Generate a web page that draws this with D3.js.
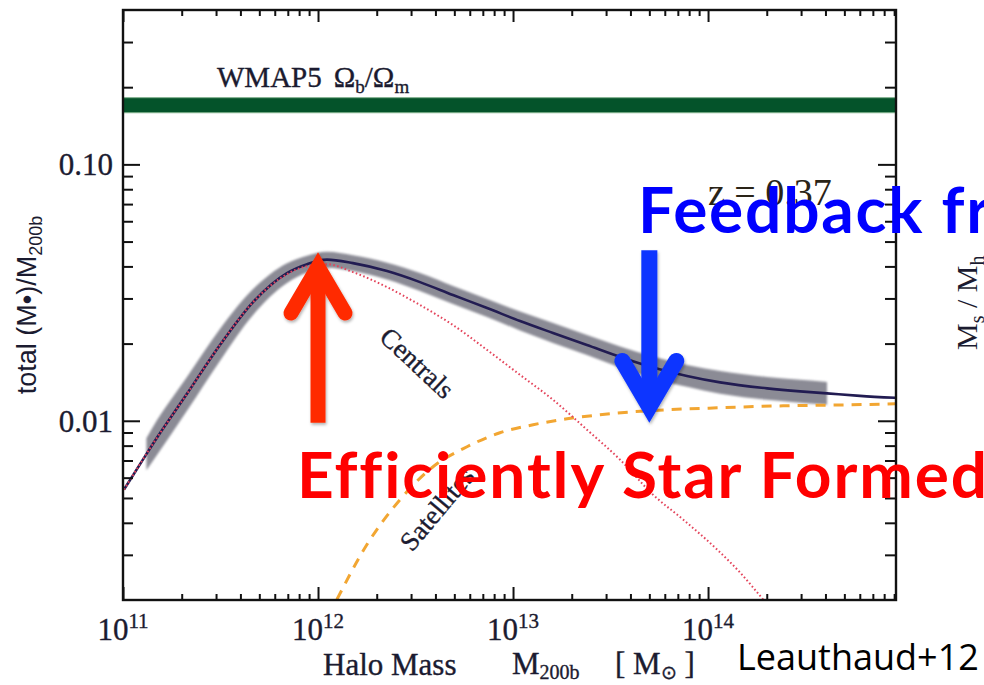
<!DOCTYPE html>
<html>
<head>
<meta charset="utf-8">
<script src="https://cdn.jsdelivr.net/npm/d3@7"></script>
<style>
  html, body { margin: 0; padding: 0; background: #fff; overflow: hidden; }
  svg { display: block; }
</style>
</head>
<body>
<svg id="chart" width="984" height="685"></svg>
<script>
// ---- data: stellar-to-halo mass fraction vs halo mass (log10 M200b / Msun) ----
const totalLogM = [11.005, 11.12, 11.154, 11.328, 11.497, 11.667, 11.841, 11.944, 12.046, 12.179, 12.354, 12.523,
                   12.692, 12.867, 13.036, 13.205, 13.379, 13.549, 13.718, 13.892, 14.062, 14.303, 14.472, 14.610,
                   14.779, 14.959];
const totalFrac = [0.00539, 0.00741, 0.00814, 0.01274, 0.01975, 0.02904, 0.03767, 0.04082, 0.04250, 0.04119, 0.03835, 0.03474,
                   0.03093, 0.02752, 0.02449, 0.02200, 0.01975, 0.01774, 0.01615, 0.01496, 0.01412, 0.01338, 0.01302, 0.01279,
                   0.01251, 0.01229];

// uncertainty band on the total
const bandLogM = [11.12, 11.154, 11.328, 11.497, 11.667, 11.841, 11.944, 12.046, 12.179, 12.354, 12.523, 12.692,
                  12.867, 13.036, 13.205, 13.379, 13.549, 13.718, 13.892, 14.062, 14.303, 14.472, 14.610];
const bandHi = [0.00855, 0.00948, 0.01483, 0.02280, 0.03263, 0.04119, 0.04406, 0.04565, 0.04425, 0.04137, 0.03767, 0.03352,
                0.02982, 0.02667, 0.02405, 0.02161, 0.01950, 0.01782, 0.01652, 0.01565, 0.01483, 0.01444, 0.01418];
const bandLo = [0.00642, 0.00699, 0.01094, 0.01712, 0.02586, 0.03443, 0.03783, 0.03956, 0.03835, 0.03553, 0.03205, 0.02852,
                0.02540, 0.02250, 0.02011, 0.01806, 0.01615, 0.01463, 0.01356, 0.01274, 0.01207, 0.01175, 0.01154];

const centLogM = [11.005, 11.154, 11.328, 11.497, 11.667, 11.841, 11.944, 12.046, 12.179, 12.354, 12.523, 12.692,
                  12.867, 13.036, 13.205, 13.379, 13.549, 13.718, 13.872, 14.046, 14.164, 14.282];
const centFrac = [0.00539, 0.00814, 0.01274, 0.01975, 0.02904, 0.03733, 0.04009, 0.04082, 0.03800, 0.03322, 0.02827, 0.02363,
                  0.01889, 0.01510, 0.01207, 0.00923, 0.00705, 0.00515, 0.00412, 0.00315, 0.00256, 0.00201];

const satLogM = [12.097, 12.251, 12.421, 12.590, 12.764, 12.933, 13.103, 13.277, 13.446, 13.615, 13.790, 14.046,
                 14.385, 14.728, 14.959];
const satFrac = [0.00201, 0.00329, 0.00493, 0.00662, 0.00792, 0.00898, 0.00965, 0.01018, 0.01055, 0.01084, 0.01104, 0.01123,
                 0.01144, 0.01154, 0.01164];

// cosmic baryon fraction band (WMAP5)
const wmapRange = [0.159, 0.182];

// axis ticks
const xMajorExp = [11, 12, 13, 14];
const xTickLabels = ["11", "12", "13", "14"];
const yMajor = [0.01, 0.1];
const yTickLabels = ["0.01", "0.10"];

// annotation arrows: halo mass, tail value, head value
const arrowMass = [1e12, 5e13];
const arrowTail = [0.00982, 0.0462];
const arrowHead = [0.0455, 0.0099];

// ---- layout ----
const L = 123, T = 10, R = 896, B = 600;
const svg = d3.select("#chart");

const x = d3.scaleLog().domain([1e11, 9.2e14]).range([L, R]);
const y = d3.scaleLog().domain([0.002, 0.4]).range([B, T]);

const xMajor = xMajorExp.map(e => Math.pow(10, e));
const xMinor = [];
xMajorExp.forEach(e => { for (let k = 2; k <= 9; k++) { const v = k * Math.pow(10, e); if (v < 9.2e14) xMinor.push(v); } });
const yMinor = [];
[-3, -2, -1].forEach(e => { for (let k = 2; k <= 9; k++) { const v = k * Math.pow(10, e); if (v > 0.0021 && v < 0.39) yMinor.push(v); } });

const defs = svg.append("defs");
defs.append("clipPath").attr("id", "plotClip")
  .append("rect").attr("x", L).attr("y", T).attr("width", R - L).attr("height", B - T);
defs.append("filter").attr("id", "soft").append("feGaussianBlur").attr("stdDeviation", 0.9);
const sh = defs.append("filter").attr("id", "shadow").attr("x", "-30%").attr("y", "-10%").attr("width", "160%").attr("height", "130%");
sh.append("feDropShadow").attr("dx", 1).attr("dy", 2).attr("stdDeviation", 1.6)
  .attr("flood-color", "#000").attr("flood-opacity", 0.3);

const plot = svg.append("g").attr("clip-path", "url(#plotClip)");

// WMAP5 band
plot.append("rect")
  .attr("x", L).attr("width", R - L)
  .attr("y", y(wmapRange[1])).attr("height", y(wmapRange[0]) - y(wmapRange[1]))
  .attr("fill", "#04532a").attr("stroke", "#7fb08c").attr("stroke-width", 1);

// uncertainty band
const bandData = bandLogM.map((m, i) => ({ m: Math.pow(10, m), lo: bandLo[i], hi: bandHi[i] }));
plot.append("path")
  .datum(bandData)
  .attr("d", d3.area().x(d => x(d.m)).y0(d => y(d.lo)).y1(d => y(d.hi)).curve(d3.curveMonotoneX))
  .attr("fill", "#8b8b95").attr("filter", "url(#soft)");

const line = d3.line().x(d => x(d[0])).y(d => y(d[1])).curve(d3.curveMonotoneX);
const pairs = (lm, v) => lm.map((m, i) => [Math.pow(10, m), v[i]]);

plot.append("path").datum(pairs(totalLogM, totalFrac)).attr("d", line)
  .attr("fill", "none").attr("stroke", "#221c52").attr("stroke-width", 2.6);

plot.append("path").datum(pairs(satLogM, satFrac)).attr("d", line)
  .attr("fill", "none").attr("stroke", "#f2a632").attr("stroke-width", 3)
  .attr("stroke-dasharray", "10,8");

plot.append("path").datum(pairs(centLogM, centFrac)).attr("d", line)
  .attr("fill", "none").attr("stroke", "#e4455c").attr("stroke-width", 2)
  .attr("stroke-dasharray", "1.6,2.4");

// ---- axes: inward major and minor ticks on all four sides ----
function ticks(axisFn, values, size, tx, ty) {
  svg.append("g").attr("transform", `translate(${tx},${ty})`)
    .call(axisFn.tickValues(values).tickSize(size).tickFormat(""))
    .call(g => g.select(".domain").remove())
    .call(g => g.selectAll("line").attr("stroke", "#111").attr("stroke-width", 2));
}
ticks(d3.axisBottom(x), xMajor, -13, 0, B);
ticks(d3.axisBottom(x), xMinor, -6, 0, B);
ticks(d3.axisTop(x), xMajor, -12, 0, T);
ticks(d3.axisTop(x), xMinor, -6, 0, T);
ticks(d3.axisLeft(y), yMajor, -17, L, 0);
ticks(d3.axisLeft(y), yMinor, -10, L, 0);
ticks(d3.axisRight(y), yMajor, -18, R, 0);
ticks(d3.axisRight(y), yMinor, -11, R, 0);

svg.append("rect").attr("x", L).attr("y", T).attr("width", R - L).attr("height", B - T)
  .attr("fill", "none").attr("stroke", "#111").attr("stroke-width", 2.4);

const serif = "'Liberation Serif', 'Times New Roman', serif";
const ink = "#1b1b30";
const heavy = s => s.attr("stroke", ink).attr("stroke-width", 0.35);

// x tick labels: powers of ten
xMajor.forEach((v, i) => {
  const t = svg.append("text").attr("x", x(v)).attr("y", 640)
    .attr("text-anchor", "middle").attr("font-family", serif).attr("font-size", 31).attr("fill", ink).call(heavy);
  t.append("tspan").text("10");
  t.append("tspan").attr("dy", -12).attr("font-size", 21).text(xTickLabels[i]);
});

// y tick labels
yMajor.forEach((v, i) => {
  svg.append("text").attr("x", 113).attr("y", y(v) + 11)
    .attr("text-anchor", "end").attr("font-family", serif).attr("font-size", 31).attr("fill", ink).call(heavy)
    .text(yTickLabels[i]);
});

// axis titles
svg.append("text").attr("x", 323).attr("y", 675).attr("font-family", serif).attr("font-size", 31).attr("fill", ink)
  .call(heavy).text("Halo Mass");
const mt = svg.append("text").attr("x", 512).attr("y", 674).attr("font-family", serif).attr("font-size", 31)
  .attr("fill", ink).call(heavy);
mt.append("tspan").text("M");
mt.append("tspan").attr("dy", 5).attr("font-size", 20).text("200b");
const ut = svg.append("text").attr("x", 615).attr("y", 674).attr("font-family", serif).attr("font-size", 31)
  .attr("fill", ink).call(heavy);
ut.append("tspan").text("[ M");
ut.append("tspan").attr("dy", 5).attr("font-size", 19).text("⊙");
ut.append("tspan").attr("dy", -5).text(" ]");

const yt = svg.append("text").attr("transform", "translate(36,305) rotate(-90)")
  .attr("text-anchor", "middle").attr("font-family", "'Liberation Sans', Arial, sans-serif")
  .attr("font-size", 27).attr("fill", ink);
yt.append("tspan").text("total (M•)/M");
yt.append("tspan").attr("dy", 6).attr("font-size", 18).text("200b");

// in-panel labels
const wt = svg.append("text").attr("x", 217).attr("y", 87).attr("font-family", serif).attr("font-size", 29)
  .attr("fill", ink).call(heavy);
wt.append("tspan").text("WMAP5");
wt.append("tspan").attr("dx", 12).text("Ω");
wt.append("tspan").attr("dy", 6).attr("font-size", 19).text("b");
wt.append("tspan").attr("dy", -6).text("/Ω");
wt.append("tspan").attr("dy", 6).attr("font-size", 19).text("m");

svg.append("text").attr("transform", "translate(417,363) rotate(43)")
  .attr("text-anchor", "middle").attr("dominant-baseline", "central")
  .attr("font-family", serif).attr("font-size", 27).attr("fill", ink).call(heavy).text("Centrals");
svg.append("text").attr("transform", "translate(437,509) rotate(-50)")
  .attr("text-anchor", "middle").attr("dominant-baseline", "central")
  .attr("font-family", serif).attr("font-size", 27).attr("fill", ink).call(heavy).text("Satellites");

svg.append("text").attr("x", 708).attr("y", 205).attr("font-family", serif).attr("font-size", 38).attr("fill", "#2a2418")
  .text("z = 0.37");

// neighbouring panel's axis title, cut by the page edge
const rt = svg.append("text").attr("transform", "translate(977,350) rotate(-90)")
  .attr("font-family", serif).attr("font-size", 30).attr("fill", ink);
rt.append("tspan").text("M");
rt.append("tspan").attr("dy", 7).attr("font-size", 20).text("s");
rt.append("tspan").attr("dy", -7).text(" / M");
rt.append("tspan").attr("dy", 7).attr("font-size", 20).text("h");

// ---- annotation arrows ----
const arrowColor = ["#ff2b06", "#0a36ff"];
const arrowWidth = [15, 16];
arrowMass.forEach((m, i) => {
  const cx = x(m), y0 = y(arrowTail[i]), y1 = y(arrowHead[i]);
  const dir = y1 < y0 ? -1 : 1;             // -1 points up, +1 points down
  const w = arrowWidth[i];
  const vy = y1 - dir * 15;                 // vertex sits behind the mitred tip
  const g = svg.append("g").attr("filter", "url(#shadow)");
  g.append("line").attr("x1", cx).attr("x2", cx).attr("y1", y0).attr("y2", vy)
    .attr("stroke", arrowColor[i]).attr("stroke-width", w);
  g.append("path")
    .attr("d", `M${cx - 27},${vy - dir * 46} L${cx},${vy} L${cx + 27},${vy - dir * 46}`)
    .attr("fill", "none").attr("stroke", arrowColor[i]).attr("stroke-width", w)
    .attr("stroke-linecap", "round").attr("stroke-linejoin", "miter").attr("stroke-miterlimit", 10);
});

// ---- overlay captions ----
const bold = "Lato, 'Open Sans', sans-serif";
svg.append("text").attr("x", 638).attr("y", 233).attr("font-family", bold).attr("font-weight", 700)
  .attr("font-size", 64).attr("letter-spacing", 1.8).attr("fill", "#0000ff").text("Feedback from");
svg.append("text").attr("x", 297).attr("y", 498).attr("font-family", bold).attr("font-weight", 700)
  .attr("font-size", 64).attr("letter-spacing", 1.9).attr("fill", "#ff0000").text("Efficiently Star Formed");

svg.append("text").attr("x", 737).attr("y", 670).attr("font-family", "'Open Sans', sans-serif")
  .attr("font-size", 36).attr("fill", "#000").text("Leauthaud+12");
</script>
</body>
</html>
